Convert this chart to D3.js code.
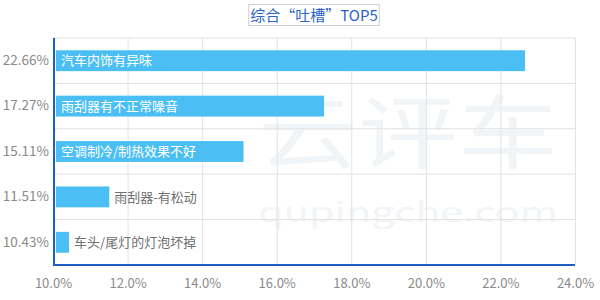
<!DOCTYPE html>
<html>
<head>
<meta charset="utf-8">
<script src="https://cdn.jsdelivr.net/npm/d3@7"></script>
<style>
  body { margin: 0; background: #fff; }
  text { font-family: "Microsoft YaHei", "Noto Sans CJK SC", sans-serif; }
</style>
</head>
<body>
<script>
// Data
const categories = ["汽车内饰有异味", "雨刮器有不正常噪音", "空调制冷/制热效果不好", "雨刮器-有松动", "车头/尾灯的灯泡坏掉"];
const values = [22.66, 17.27, 15.11, 11.51, 10.43];
const valueLabels = ["22.66%", "17.27%", "15.11%", "11.51%", "10.43%"];
const xTicks = [10, 12, 14, 16, 18, 20, 22, 24];
const title = "综合“吐槽”TOP5";

// Set dimensions and margins
const W = 600, H = 300;
const margin = { top: 38, right: 25, bottom: 35, left: 53 },
      width = W - margin.left - margin.right,
      height = H - margin.top - margin.bottom;

const root = d3.select("body")
  .append("svg")
    .attr("width", W)
    .attr("height", H);

// Title box
const tg = root.append("g");
const tt = tg.append("text")
  .attr("x", W / 2 + 14)
  .attr("y", 21)
  .attr("text-anchor", "middle")
  .attr("fill", "#2b63c6")
  .attr("font-size", 15)
  .text(title);
const bb = tt.node().getBBox();
tg.insert("rect", "text")
  .attr("x", bb.x - 1.5)
  .attr("y", 4.5)
  .attr("width", bb.width + 3)
  .attr("height", 21)
  .attr("fill", "#fff")
  .attr("stroke", "#cfcfcf");

const svg = root.append("g")
  .attr("transform", `translate(${margin.left},${margin.top})`);

// Scales
const x = d3.scaleLinear()
  .domain([10, 24])
  .range([0, width]);

const y = d3.scaleBand()
  .domain(categories)
  .range([0, height])
  .paddingInner(0.54)
  .paddingOuter(0.27);

// Watermark
svg.append("text")
  .attr("x", 205)
  .attr("y", 124)
  .attr("fill", "#f2f5f8")
  .attr("font-size", 80)
  .attr("font-family", "Noto Sans CJK SC")
  .attr("textLength", 300)
  .attr("lengthAdjust", "spacingAndGlyphs")
  .text("云评车");
svg.append("text")
  .attr("x", 205)
  .attr("y", 184)
  .attr("fill", "#f2f5f8")
  .attr("font-size", 28)
  .attr("font-family", "Roboto")
  .attr("textLength", 300)
  .attr("lengthAdjust", "spacingAndGlyphs")
  .text("qupingche.com");

// Vertical grid + x labels
const xAxis = svg.append("g")
  .attr("transform", `translate(0,${height})`)
  .call(d3.axisBottom(x)
    .tickValues(xTicks)
    .tickSize(-height)
    .tickPadding(14)
    .tickFormat(d => d.toFixed(1) + "%"));
xAxis.select(".domain").remove();
xAxis.selectAll("line").attr("stroke", "#e2e2e2");
xAxis.selectAll("text")
  .attr("fill", "#8a8a8a")
  .attr("font-size", 13);

// Horizontal grid at band edges
const step = y.step();
svg.append("g")
  .selectAll("line")
  .data(d3.range(categories.length + 1))
  .join("line")
    .attr("x1", 0)
    .attr("x2", width)
    .attr("y1", i => i * step)
    .attr("y2", i => i * step)
    .attr("stroke", "#e2e2e2");

// Y labels
const yAxis = svg.append("g")
  .call(d3.axisLeft(y)
    .tickSize(0)
    .tickPadding(4)
    .tickFormat((d, i) => valueLabels[i]));
yAxis.select(".domain").remove();
yAxis.selectAll("text")
  .attr("fill", "#8a8a8a")
  .attr("font-size", 13.5);

// Bars
const data = categories.map((c, i) => ({ name: c, value: values[i] }));

svg.append("g")
  .selectAll("rect")
  .data(data)
  .join("rect")
    .attr("x", 3)
    .attr("y", d => y(d.name))
    .attr("width", d => x(d.value) - 3)
    .attr("height", y.bandwidth())
    .attr("fill", "#4bbff4");

// Bar labels: inside if bar is long enough, else outside
svg.append("g")
  .selectAll("text")
  .data(data)
  .join("text")
    .attr("x", d => x(d.value) > 150 ? 8 : x(d.value) + 5)
    .attr("y", d => y(d.name) + y.bandwidth() / 2)
    .attr("dy", "0.36em")
    .attr("font-size", 13)
    .attr("fill", d => x(d.value) > 150 ? "#fff" : "#707070")
    .text(d => d.name);

// Axis lines
svg.append("line")
  .attr("x1", 1).attr("x2", 1)
  .attr("y1", 0).attr("y2", height + 1)
  .attr("stroke", "#1b5fc0")
  .attr("stroke-width", 2);
svg.append("line")
  .attr("x1", 0).attr("x2", width)
  .attr("y1", height).attr("y2", height)
  .attr("stroke", "#1b5fc0")
  .attr("stroke-width", 2);
</script>
</body>
</html>
